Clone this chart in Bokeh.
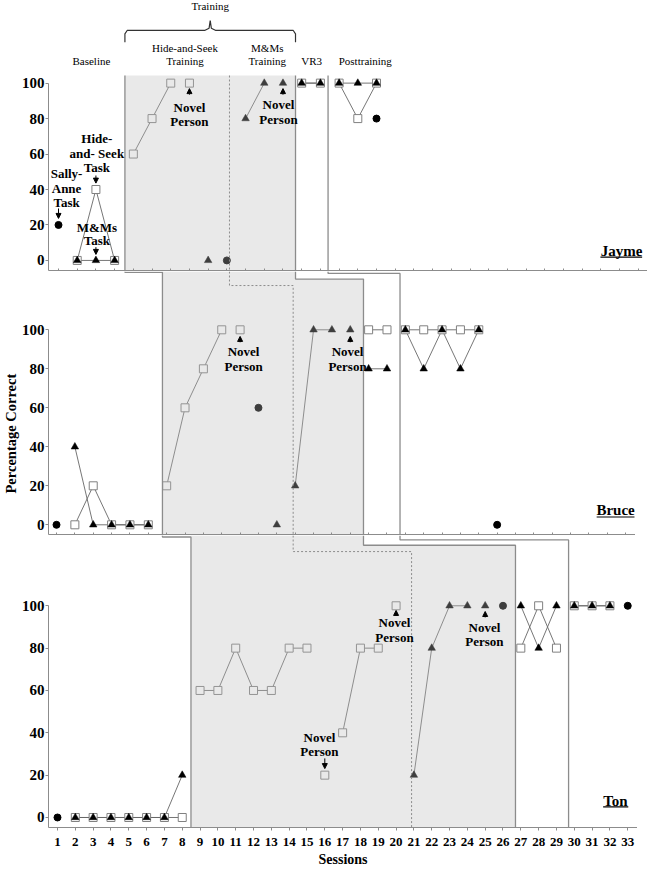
from bokeh.plotting import figure
from bokeh.layouts import column
from bokeh.models import Range1d, FixedTicker, Label, Arrow, NormalHead, Title
from bokeh.embed import file_html
from bokeh.resources import INLINE

FONT = "Liberation Serif"

# ---------------- data ----------------
# Jayme
jayme_sa_sessions = [1, 10, 18]
jayme_sa_values = [20, 0, 80]
jayme_hs_sessions = [2, 3, 4, 5, 6, 7, 8, 14, 15, 16, 17, 18]
jayme_hs_values = [0, 40, 0, 60, 80, 100, 100, 100, 100, 100, 80, 100]
jayme_hs_runs = [1, 1, 1, 2, 2, 2, 3, 4, 4, 5, 5, 5]
jayme_mm_sessions = [2, 3, 4, 9, 11, 12, 13, 14, 15, 16, 17, 18]
jayme_mm_values = [0, 0, 0, 0, 80, 100, 100, 100, 100, 100, 100, 100]
jayme_mm_runs = [1, 1, 1, 2, 3, 3, 4, 5, 5, 6, 6, 6]

# Bruce
bruce_sa_sessions = [1, 12, 25]
bruce_sa_values = [0, 60, 0]
bruce_hs_sessions = [2, 3, 4, 5, 6, 7, 8, 9, 10, 11, 18, 19, 20, 21, 22, 23, 24]
bruce_hs_values = [0, 20, 0, 0, 0, 20, 60, 80, 100, 100, 100, 100, 100, 100, 100, 100, 100]
bruce_hs_runs = [1, 1, 1, 1, 1, 2, 2, 2, 2, 3, 4, 4, 5, 5, 5, 5, 5]
bruce_mm_sessions = [2, 3, 4, 5, 6, 13, 14, 15, 16, 17, 18, 19, 20, 21, 22, 23, 24]
bruce_mm_values = [40, 0, 0, 0, 0, 0, 20, 100, 100, 100, 80, 80, 100, 80, 100, 80, 100]
bruce_mm_runs = [1, 1, 1, 1, 1, 2, 3, 3, 3, 4, 5, 5, 6, 6, 6, 6, 6]

# Ton
ton_sa_sessions = [1, 26, 33]
ton_sa_values = [0, 100, 100]
ton_hs_sessions = [2, 3, 4, 5, 6, 7, 8, 9, 10, 11, 12, 13, 14, 15, 16, 17, 18, 19, 20,
                   27, 28, 29, 30, 31, 32]
ton_hs_values = [0, 0, 0, 0, 0, 0, 0, 60, 60, 80, 60, 60, 80, 80, 20, 40, 80, 80, 100,
                 80, 100, 80, 100, 100, 100]
ton_hs_runs = [1, 1, 1, 1, 1, 1, 1, 2, 2, 2, 2, 2, 2, 2, 3, 4, 4, 4, 5,
               6, 6, 6, 7, 7, 7]
ton_mm_sessions = [2, 3, 4, 5, 6, 7, 8, 21, 22, 23, 24, 25, 27, 28, 29, 30, 31, 32]
ton_mm_values = [0, 0, 0, 0, 0, 0, 20, 20, 80, 100, 100, 100, 100, 80, 100, 100, 100, 100]
ton_mm_runs = [1, 1, 1, 1, 1, 1, 1, 2, 2, 2, 2, 3, 4, 4, 4, 5, 5, 5]

# phase changes (session units): baseline->training, H&S->M&Ms, training->VR3, VR3->posttraining
jayme_phases = [4.55, 10.14, 13.67, 15.41]
bruce_phases = [6.77, 13.89, 17.72, 19.71]
ton_phases = [8.49, 20.87, 26.70, 29.68]

y_ticks = [0, 20, 40, 60, 80, 100]

# ---------------- layout geometry ----------------
GEOM = {
    "Jayme": dict(x0=0.465, ppu=18.706, fw=599, y0=-5.68, y1=146.6, fh=270),
    "Bruce": dict(x0=0.564, ppu=18.36, fw=587, y0=-4.97, y1=129.9, fh=263),
    "Ton": dict(x0=0.495, ppu=17.82, fw=589, y0=-4.73, y1=133.2, fh=292),
}
# connector levels (y data units) in the lower panel for each phase line
bruce_conn = [129.5, 122.7, 126.0, 128.9]
ton_conn = [132.5, 125.6, 128.6, 131.1]
phase_top_jayme = 104.3

GRAY = "#8c8c8c"
SHADE = "#bcbcbc"


def convert(x, g_from, g_to):
    px = (x - g_from["x0"]) * g_from["ppu"]
    return g_to["x0"] + px / g_to["ppu"]


def make_panel(name, bottom):
    g = GEOM[name]
    x1 = g["x0"] + g["fw"] / g["ppu"]
    p = figure(frame_width=g["fw"], frame_height=g["fh"],
               x_range=Range1d(g["x0"], x1), y_range=Range1d(g["y0"], g["y1"]),
               output_backend="svg", toolbar_location=None,
               min_border_left=48, min_border_right=0, min_border_top=0, min_border_bottom=0,
               outline_line_color=None, background_fill_color="white", border_fill_color="white")
    p.grid.visible = False
    ya = p.yaxis[0]
    ya.ticker = FixedTicker(ticks=y_ticks)
    ya.bounds = (g["y0"], 100)
    ya.axis_line_color = GRAY
    ya.major_tick_line_color = GRAY
    ya.major_tick_out = 3
    ya.major_tick_in = 0
    ya.minor_tick_line_color = None
    ya.major_label_text_font = FONT
    ya.major_label_text_font_size = "15px"
    ya.major_label_text_font_style = "bold"
    ya.major_label_text_color = "black"
    ya.major_label_standoff = 1
    xa = p.xaxis[0]
    xa.axis_line_color = GRAY
    if bottom:
        xa.ticker = FixedTicker(ticks=list(range(1, int(x1) + 1)))
        xa.major_tick_line_color = GRAY
        xa.minor_tick_line_color = None
        xa.major_tick_out = 3
        xa.major_tick_in = 0
        xa.major_label_text_font = FONT
        xa.major_label_text_font_size = "13px"
        xa.major_label_text_font_style = "bold"
        xa.major_label_text_color = "black"
        xa.major_label_standoff = 7
        xa.axis_label = "Sessions"
        xa.axis_label_text_font = FONT
        xa.axis_label_text_font_size = "14px"
        xa.axis_label_text_font_style = "bold"
        xa.axis_label_text_color = "black"
        xa.axis_label_standoff = 3
    else:
        # tick marks only, no tick labels
        xa.ticker = FixedTicker(ticks=[], minor_ticks=list(range(1, int(x1) + 1)))
        xa.major_tick_line_color = None
        xa.minor_tick_line_color = GRAY
        xa.minor_tick_in = 2
        xa.minor_tick_out = 1
    return p


def draw_data(p, sa_s, sa_v, hs_s, hs_v, hs_r, mm_s, mm_v, mm_r):
    for s, v, r in ((hs_s, hs_v, hs_r), (mm_s, mm_v, mm_r)):
        xs, ys = [], []
        for run in sorted(set(r)):
            idx = [i for i, k in enumerate(r) if k == run]
            if len(idx) > 1:
                xs.append([s[i] for i in idx])
                ys.append([v[i] for i in idx])
        p.multi_line(xs, ys, line_color="#666666", line_width=0.9)
    p.scatter(hs_s, hs_v, marker="square", size=8, fill_color="white", line_color="#808080", line_width=1)
    p.scatter(mm_s, mm_v, marker="triangle", size=7.5, fill_color="black", line_color="black", line_width=0.5)
    p.scatter(sa_s, sa_v, marker="circle", size=7, fill_color="black", line_color="black")


def txt(p, x, y, text, size="13px", bold=True, align="center"):
    p.add_layout(Label(x=x, y=y, text=text, text_font=FONT, text_font_size=size,
                       text_font_style="bold" if bold else "normal", text_color="black",
                       text_align=align, text_baseline="middle"))


def arrow(p, x, y_from, y_to):
    p.add_layout(Arrow(end=NormalHead(size=5, fill_color="black", line_color="black", line_width=1),
                       x_start=x, y_start=y_from, x_end=x, y_end=y_to,
                       line_color="black", line_width=1))


def phase_style(k):
    if k == 1:
        return dict(line_color=GRAY, line_width=1, line_dash="2 2")
    return dict(line_color=GRAY, line_width=1.3)


gJ, gB, gT = GEOM["Jayme"], GEOM["Bruce"], GEOM["Ton"]

# ---------------- Jayme ----------------
pJ = make_panel("Jayme", False)
draw_data(pJ, jayme_sa_sessions, jayme_sa_values, jayme_hs_sessions, jayme_hs_values, jayme_hs_runs,
          jayme_mm_sessions, jayme_mm_values, jayme_mm_runs)
J1, J2, J3, J4 = jayme_phases
pJ.patch([J1, J3, J3, J1], [phase_top_jayme, phase_top_jayme, gJ["y0"], gJ["y0"]],
         fill_color=SHADE, fill_alpha=0.33, line_color=None)
for k, xp in enumerate(jayme_phases):
    pJ.line([xp, xp], [phase_top_jayme, gJ["y0"]], **phase_style(k))

# headers
C = (J1 + J3) / 2
txt(pJ, C, 143.6, "Training", "11px", False)
pJ.line([J1, J1, J1 + 0.12, C - 0.3, C - 0.06, C, C + 0.06, C + 0.3, J3 - 0.12, J3, J3],
        [123.0, 127.8, 129.7, 129.7, 131.0, 135.2, 131.0, 129.7, 129.7, 127.8, 123.0],
        line_color="#333333", line_width=1.2)
txt(pJ, 7.76, 119.7, "Hide-and-Seek", "11px", False)
txt(pJ, 7.76, 112.2, "Training", "11px", False)
txt(pJ, 12.16, 119.7, "M&Ms", "11px", False)
txt(pJ, 12.16, 112.2, "Training", "11px", False)
txt(pJ, 2.76, 112.2, "Baseline", "11px", False)
txt(pJ, 14.53, 112.2, "VR3", "11px", False)
txt(pJ, 17.40, 112.2, "Posttraining", "11px", False)
# task annotations
txt(pJ, 1.43, 49.2, "Sally-")
txt(pJ, 1.43, 40.4, "Anne")
txt(pJ, 1.43, 32.9, "Task")
arrow(pJ, 1, 29.3, 23.7)
txt(pJ, 3.05, 68.8, "Hide-")
txt(pJ, 3.05, 60.4, "and- Seek")
txt(pJ, 3.05, 52.6, "Task")
arrow(pJ, 3, 47.9, 43.6)
txt(pJ, 3.05, 18.8, "M&Ms")
txt(pJ, 3.05, 11.3, "Task")
arrow(pJ, 3, 7.5, 3.4)
txt(pJ, 8, 86.5, "Novel")
txt(pJ, 8, 78.6, "Person")
arrow(pJ, 8, 93.5, 96.9)
txt(pJ, 12.76, 87.8, "Novel")
txt(pJ, 12.76, 79.5, "Person")
arrow(pJ, 13, 93.5, 96.9)
txt(pJ, 31.1, 5.6, "Jayme", "15px")
pJ.segment(x0=[29.97], y0=[1.9], x1=[32.2], y1=[1.9], line_color="black", line_width=1.2)

# ---------------- Bruce ----------------
pB = make_panel("Bruce", False)
pB.add_layout(Title(text="Percentage Correct", align="left", offset=41, standoff=0,
                    text_font=FONT, text_font_size="14.5px", text_font_style="bold",
                    text_color="black"), "left")
draw_data(pB, bruce_sa_sessions, bruce_sa_values, bruce_hs_sessions, bruce_hs_values, bruce_hs_runs,
          bruce_mm_sessions, bruce_mm_values, bruce_mm_runs)
B1, B2, B3, B4 = bruce_phases
J3b = convert(J3, gJ, gB)
pB.patch([B1, J3b, J3b, B3, B3, B1],
         [gB["y1"], gB["y1"], bruce_conn[2], bruce_conn[2], gB["y0"], gB["y0"]],
         fill_color=SHADE, fill_alpha=0.33, line_color=None)
for k in range(4):
    xu = convert(jayme_phases[k], gJ, gB)
    pB.line([xu, xu, bruce_phases[k], bruce_phases[k]],
            [gB["y1"], bruce_conn[k], bruce_conn[k], gB["y0"]], **phase_style(k))
txt(pB, 11.19, 88.9, "Novel")
txt(pB, 11.19, 81.2, "Person")
arrow(pB, 11, 93.6, 96.6)
txt(pB, 16.85, 88.9, "Novel")
txt(pB, 16.85, 81.2, "Person")
arrow(pB, 17, 93.6, 96.6)
txt(pB, 31.45, 7.6, "Bruce", "15px")
pB.segment(x0=[30.42], y0=[4.0], x1=[32.48], y1=[4.0], line_color="black", line_width=1.2)

# ---------------- Ton ----------------
pT = make_panel("Ton", True)
draw_data(pT, ton_sa_sessions, ton_sa_values, ton_hs_sessions, ton_hs_values, ton_hs_runs,
          ton_mm_sessions, ton_mm_values, ton_mm_runs)
T1, T2, T3, T4 = ton_phases
B3t = convert(B3, gB, gT)
pT.patch([T1, B3t, B3t, T3, T3, T1],
         [gT["y1"], gT["y1"], ton_conn[2], ton_conn[2], gT["y0"], gT["y0"]],
         fill_color=SHADE, fill_alpha=0.33, line_color=None)
for k in range(4):
    xu = convert(bruce_phases[k], gB, gT)
    pT.line([xu, xu, ton_phases[k], ton_phases[k]],
            [gT["y1"], ton_conn[k], ton_conn[k], gT["y0"]], **phase_style(k))
txt(pT, 15.70, 37.8, "Novel")
txt(pT, 15.70, 31.0, "Person")
arrow(pT, 16, 27.9, 23.1)
txt(pT, 19.91, 92.1, "Novel")
txt(pT, 19.91, 85.0, "Person")
arrow(pT, 20, 95.3, 97.8)
txt(pT, 24.96, 89.7, "Novel")
txt(pT, 24.96, 83.0, "Person")
arrow(pT, 25, 94.5, 97.3)
txt(pT, 32.31, 7.9, "Ton", "15px")
pT.segment(x0=[31.62], y0=[5.0], x1=[33.03], y1=[5.0], line_color="black", line_width=1.2)

layout = column(pJ, pB, pT, spacing=0)
open("out.html", "w").write(file_html(layout, INLINE))
